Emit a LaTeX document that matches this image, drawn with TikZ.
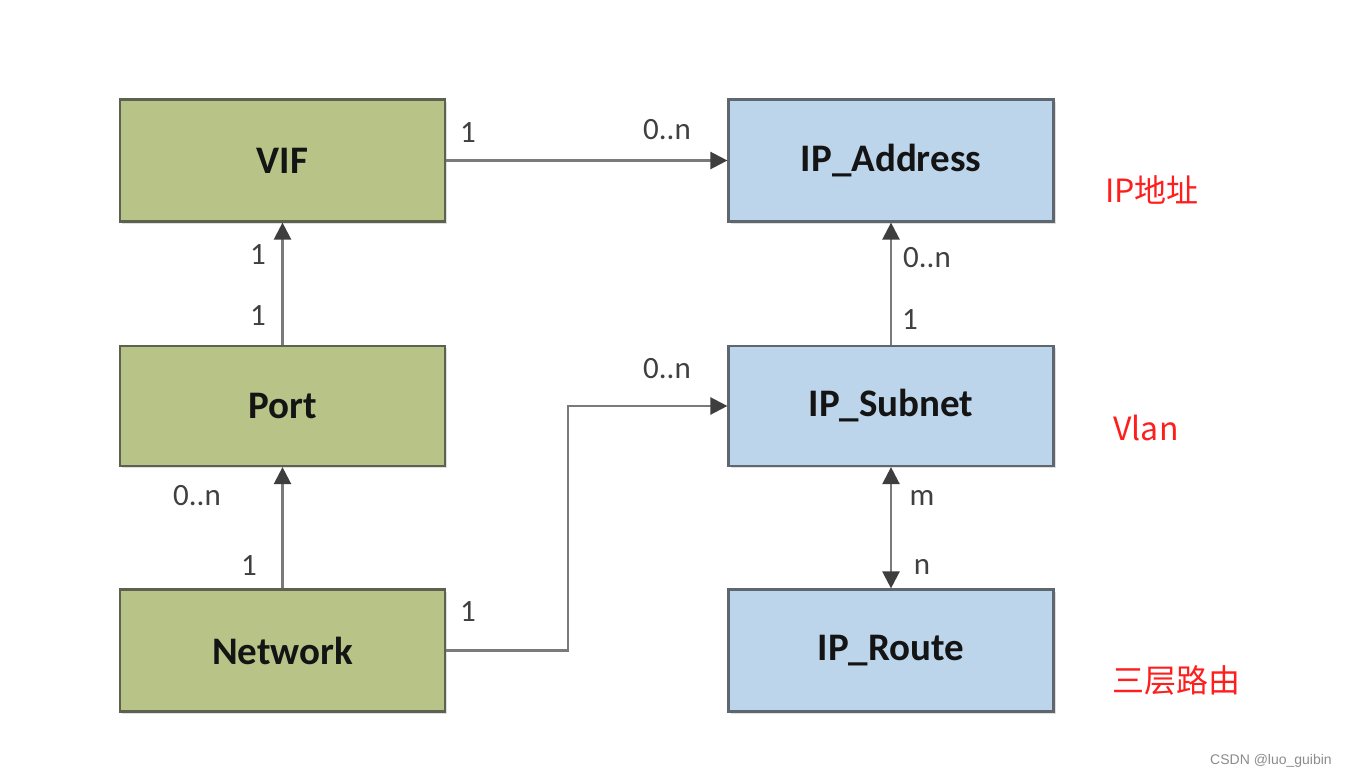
\documentclass[tikz,border=0pt]{standalone}
\usepackage{fontspec}
\setmainfont{Carlito}
\newfontfamily\cjk{Noto Sans CJK SC}
\newfontfamily\wmfont{Liberation Sans}
\usetikzlibrary{arrows.meta,shadows}
\definecolor{greenfill}{HTML}{B8C387}
\definecolor{greenline}{HTML}{5C6150}
\definecolor{bluefill}{HTML}{BCD5EA}
\definecolor{blueline}{HTML}{5E6670}
\definecolor{conncol}{HTML}{7A7A7A}
\definecolor{tipcol}{HTML}{3E3E3E}
\definecolor{redtext}{HTML}{FF1E1E}
\tikzset{
  entity/.style={draw, line width=2.2pt, minimum width=325pt, minimum height=122pt,
    inner sep=0pt, font=\fontsize{39}{44}\selectfont\bfseries, text=black!92,
    drop shadow={shadow xshift=2pt, shadow yshift=-2pt, opacity=0.25}},
  greenbox/.style={entity, fill=greenfill, draw=greenline},
  bluebox/.style={entity, fill=bluefill, draw=blueline},
  conn/.style={draw=conncol, line width=2.4pt,
    -{Triangle[length=17pt,width=17pt,color=tipcol]}},
  bothconn/.style={draw=conncol, line width=2.4pt,
    {Triangle[length=17pt,width=17pt,color=tipcol]}-{Triangle[length=17pt,width=17pt,color=tipcol]}},
  mult/.style={inner sep=0pt, font=\fontsize{31}{36}\selectfont, text=black!75},
  note/.style={inner sep=0pt, font=\cjk\fontsize{32}{38}\selectfont, text=redtext},
}
\begin{document}
\begin{tikzpicture}[x=1pt,y=-1pt]
\useasboundingbox[fill=white] (0,0) rectangle (1351,779);
% entities
\node[greenbox] (vif)    at (282.5,160.5) {VIF};
\node[greenbox, minimum height=120pt] (port) at (282.5,406) {Port};
\node[greenbox] (net)    at (282.5,650.5) {Network};
\node[bluebox]  (ipaddr) at (891,160.5) {IP\_Address};
\node[bluebox, minimum height=120pt] (subnet) at (891,406) {IP\_Subnet};
\node[bluebox]  (route)  at (891,650.5) {IP\_Route};
% connectors
\draw[conn] (vif.east) -- (ipaddr.west);
\draw[conn] (port.north) -- (vif.south);
\draw[conn] (net.north) -- (port.south);
\draw[conn] (net.east) -- ++(122,0) coordinate (bend) |- (subnet.west);
\draw[conn] (subnet.north) -- (ipaddr.south);
\draw[bothconn] (route.north) -- (subnet.south);
% multiplicities
\node[mult] (m1)  at (468,133) {1};
\node[mult] (m2)  at (667,130) {0..n};
\node[mult] (m3)  at (258,255) {1};
\node[mult] (m4)  at (258,316) {1};
\node[mult] (m5)  at (197,496) {0..n};
\node[mult] (m6)  at (249,566) {1};
\node[mult] (m7)  at (468,612) {1};
\node[mult] (m8)  at (667,369) {0..n};
\node[mult] (m9)  at (927,258) {0..n};
\node[mult] (m10) at (910,320) {1};
\node[mult] (m11) at (922,498) {m};
\node[mult] (m12) at (922,567) {n};
% notes
\node[note] (n1) at (1152,190) {IP地址};
\node[note] (n2) at (1146,428) {Vlan};
\node[note] (n3) at (1176,680) {三层路由};
\node[inner sep=0pt, font=\wmfont\fontsize{14}{16}\selectfont, text=black!45] (wm) at (1271,761) {CSDN @luo\_guibin};
\end{tikzpicture}
\end{document}
